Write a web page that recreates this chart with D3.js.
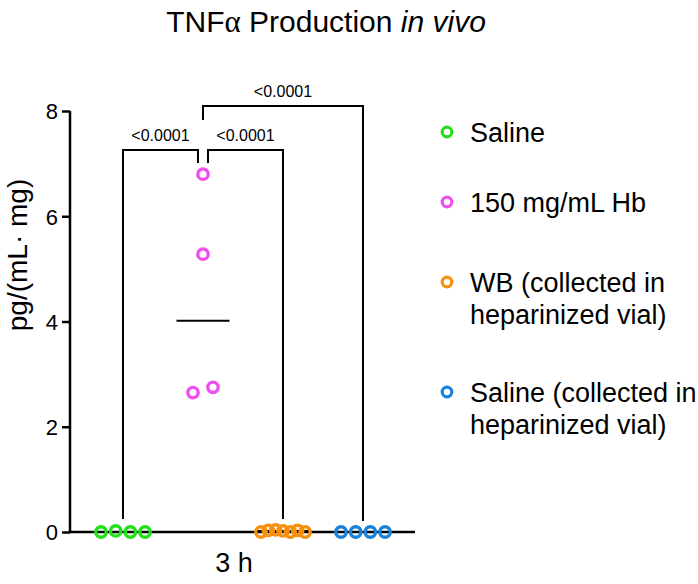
<!DOCTYPE html>
<html><head><meta charset="utf-8">
<script src="https://cdn.jsdelivr.net/npm/d3@7"></script>
<style>body{margin:0;background:#fff}svg{display:block;font-family:"Liberation Sans",Arial,sans-serif}</style>
</head><body><svg id="c" width="698" height="584"></svg>
<script>
const groups = ["Saline", "150 mg/mL Hb", "WB (collected in heparinized vial)", "Saline (collected in heparinized vial)"];
const legendLines = [["Saline"], ["150 mg/mL Hb"], ["WB (collected in", "heparinized vial)"], ["Saline (collected in", "heparinized vial)"]];
const colors = ["#22e01c", "#f04ff0", "#f7900f", "#1a82d8"];
const salineVals = [0.0, 0.02, 0.0, 0.0];
const hbVals = [6.8, 5.28, 2.65, 2.75];
const wbVals = [0.0, 0.03, 0.04, 0.02, 0.0, 0.03, 0.0];
const salineHepVals = [0.0, 0.0, 0.0, 0.0];
const seriesValues = [salineVals, hbVals, wbVals, salineHepVals];
const yTicks = [0, 2, 4, 6, 8];
const xCategory = "3 h";
const comparisons = [
  {a: 0, b: 1, label: "<0.0001"},
  {a: 1, b: 2, label: "<0.0001"},
  {a: 1, b: 3, label: "<0.0001"}
];

const svg = d3.select("#c");
const y = d3.scaleLinear().domain([0, 8]).range([532, 111]);
const x = d3.scalePoint().domain(groups).range([123, 363]);
const axisLeft = 70, axisRight = 415;

// title
const title = svg.append("text").attr("x", 326).attr("y", 32).attr("text-anchor", "middle")
  .attr("font-size", 30).attr("fill", "#000");
title.append("tspan").text("TNF");
title.append("tspan").attr("font-family", "Liberation Serif, serif").attr("font-size", 31).text("α");
title.append("tspan").text(" Production ");
title.append("tspan").attr("font-style", "italic").text("in vivo");

// y axis
const yAxis = svg.append("g").attr("transform", `translate(${axisLeft},0)`)
  .call(d3.axisLeft(y).tickValues(yTicks).tickSize(8).tickPadding(4).tickFormat(d3.format("d")));
yAxis.select(".domain").attr("stroke-width", 2.5).attr("d", `M0,${y(8)}V${y(0)}`);
yAxis.selectAll(".tick line").attr("stroke-width", 2.5);
yAxis.selectAll(".tick text").attr("font-size", 22).attr("font-family", "Liberation Sans, Arial").attr("fill", "#000").attr("dy", "0.36em");

svg.append("text").attr("transform", `translate(27,255) rotate(-90)`)
  .attr("text-anchor", "middle").attr("font-size", 28).text("pg/(mL· mg)");

// x axis
svg.append("line").attr("x1", axisLeft).attr("x2", axisRight).attr("y1", y(0)).attr("y2", y(0))
  .attr("stroke", "#000").attr("stroke-width", 2.5);
svg.append("text").attr("x", 234).attr("y", 572).attr("text-anchor", "middle")
  .attr("font-size", 27).text(xCategory);

// brackets
function bracket(x1, x2, yTop, yL, yR, label) {
  svg.append("path").attr("d", `M${x1},${yL}V${yTop}H${x2}V${yR}`)
    .attr("fill", "none").attr("stroke", "#000").attr("stroke-width", 2);
  svg.append("text").attr("x", (x1 + x2) / 2).attr("y", yTop - 9).attr("text-anchor", "middle")
    .attr("font-size", 16).text(label);
}
const cx = i => x(groups[i]);
bracket(cx(0), cx(1) - 5, 150, 519, 163, comparisons[0].label);
bracket(cx(1) + 5, cx(2), 150, 163, 519, comparisons[1].label);
bracket(cx(1), cx(3), 106, 120, 521, comparisons[2].label);

// points with simple horizontal spreading
function spread(vals) {
  const idx = vals.map((v, i) => i).sort((a, b) => vals[a] - vals[b]);
  const clusters = [];
  idx.forEach(i => {
    const last = clusters[clusters.length - 1];
    if (last && Math.abs(vals[i] - vals[last[last.length - 1]]) < 0.5) last.push(i);
    else clusters.push([i]);
  });
  const off = new Array(vals.length).fill(0);
  clusters.forEach(c => {
    const n = c.length;
    if (n < 2) return;
    const step = Math.min(20, 44 / (n - 1));
    const ord = c.slice().sort((a, b) => a - b);
    ord.forEach((i, k) => { off[i] = (k - (n - 1) / 2) * step; });
  });
  return off;
}

seriesValues.forEach((vals, g) => {
  const off = spread(vals);
  const med = d3.median(vals);
  svg.append("line").attr("x1", cx(g) - 26.5).attr("x2", cx(g) + 26.5)
    .attr("y1", y(med)).attr("y2", y(med)).attr("stroke", "#000").attr("stroke-width", 2);
  svg.selectAll(null).data(vals).enter().append("circle")
    .attr("cx", (d, i) => cx(g) + off[i]).attr("cy", d => y(d)).attr("r", 5.2)
    .attr("fill", "none").attr("stroke", colors[g]).attr("stroke-width", 3.4);
});

// legend
const legY = [132, 202, 282, 392];
legendLines.forEach((lines, i) => {
  svg.append("circle").attr("cx", 447).attr("cy", legY[i]).attr("r", 4.8)
    .attr("fill", "none").attr("stroke", colors[i]).attr("stroke-width", 3.2);
  const t = svg.append("text").attr("x", 470).attr("y", legY[i] + 10).attr("font-size", 27);
  lines.forEach((l, k) => t.append("tspan").attr("x", 470).attr("dy", k ? 31.5 : 0).text(l));
});
</script></body></html>
